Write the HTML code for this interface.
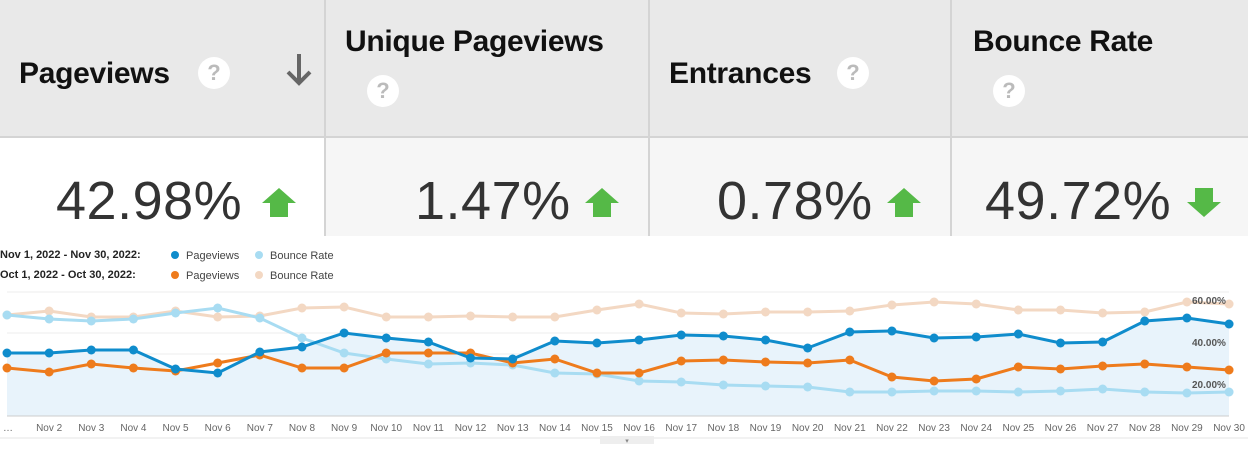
<!DOCTYPE html>
<html><head><meta charset="utf-8"><style>
body{margin:0;width:1248px;height:449px;overflow:hidden;background:#fff;font-family:"Liberation Sans",sans-serif;position:relative}
.a{position:absolute}
.h{font-weight:bold;font-size:30px;color:#111;letter-spacing:-0.3px}
.q{position:absolute;width:32px;height:32px;border-radius:50%;background:#fff;color:#bbb;font-size:22px;text-align:center;line-height:32px;font-weight:bold}
.n{font-size:54px;color:#333;position:absolute;top:171px;line-height:60px;letter-spacing:0.5px}
.vl{position:absolute;width:2px;background:#d4d4d4;top:0;height:236px}
</style></head><body>
<div class="a" style="left:0;top:0;width:1248px;height:136px;background:#e9e9e9"></div>
<div class="a" style="left:0;top:136px;width:1248px;height:2px;background:#d4d4d4"></div>
<div class="a" style="left:326px;top:138px;width:922px;height:98px;background:#f6f6f6"></div>
<div class="vl" style="left:324px"></div><div class="vl" style="left:648px"></div><div class="vl" style="left:950px"></div>
<div class="a h" style="left:19px;top:57px">Pageviews</div>
<div class="q" style="left:198px;top:57px">?</div>
<svg class="a" style="left:284px;top:52px" width="32" height="36"><path d="M15,2 V31 M4,20 L15,31 L26,20" stroke="#666" stroke-width="4" fill="none"/></svg>
<div class="a h" style="left:345px;top:25px">Unique Pageviews</div>
<div class="q" style="left:367px;top:75px">?</div>
<div class="a h" style="left:669px;top:57px">Entrances</div>
<div class="q" style="left:837px;top:57px">?</div>
<div class="a h" style="left:973px;top:25px">Bounce Rate</div>
<div class="q" style="left:993px;top:75px">?</div>
<div class="n" style="left:56px">42.98%</div>
<div class="n" style="left:415px">1.47%</div>
<div class="n" style="left:717px">0.78%</div>
<div class="n" style="left:985px">49.72%</div>
<svg class="a" style="left:0;top:0" width="1248" height="240">
<g fill="#55b947">
<polygon points="279,188 262,203 270,203 270,217 288,217 288,203 296,203"/>
<polygon points="602,188 585,203 593,203 593,217 611,217 611,203 619,203"/>
<polygon points="904,188 887,203 895,203 895,217 913,217 913,203 921,203"/>
<polygon points="1204,217 1187,202 1195,202 1195,188 1213,188 1213,202 1221,202"/>
</g></svg>
<div class="a" style="left:0;top:249px;font-size:11px;font-weight:bold;color:#222">Nov 1, 2022 - Nov 30, 2022:</div>
<div class="a" style="left:0;top:269px;font-size:11px;font-weight:bold;color:#222">Oct 1, 2022 - Oct 30, 2022:</div>
<svg class="a" style="left:0;top:240px" width="1248" height="209" id="s"></svg>
<script>
var s=document.getElementById('s'),h='';
function X(i){return 7+i*42.14}
var B=[353,353,350,350,369,373,352,347,333,338,342,358,359,341,343,340,335,336,340,348,332,331,338,337,334,343,342,321,318,324];
var O=[368,372,364,368,371,363,355,368,368,353,353,353,363,359,373,373,361,360,362,363,360,377,381,379,367,369,366,364,367,370];
var L=[315,319,321,319,313,308,318,338,353,359,364,363,365,373,374,381,382,385,386,387,392,392,391,391,392,391,389,392,393,392];
var P=[315,311,317,317,311,317,316,308,307,317,317,316,317,317,310,304,313,314,312,312,311,305,302,304,310,310,313,312,302,304];
var o=-240;
[292,333,354,375,396].forEach(function(y){h+='<line x1="7" x2="1229" y1="'+(y+o)+'" y2="'+(y+o)+'" stroke="#eee"/>'});
var pa='M7,'+(416+o);B.forEach(function(v,i){pa+=' L'+X(i)+','+(v+o)});pa+=' L1229,'+(416+o)+'Z';
h+='<path d="'+pa+'" fill="#e8f3fb"/>';
h+='<line x1="7" x2="1229" y1="'+(416+o)+'" y2="'+(416+o)+'" stroke="#ccc"/>';
function ser(a,c){var p='';a.forEach(function(v,i){p+=X(i)+','+(v+o)+' '});h+='<polyline points="'+p+'" fill="none" stroke="'+c+'" stroke-width="3"/>';a.forEach(function(v,i){h+='<circle cx="'+X(i)+'" cy="'+(v+o)+'" r="4.5" fill="'+c+'"/>'})}
ser(P,'#f3d8c3');ser(L,'#a8dcf2');ser(O,'#ee7b1c');ser(B,'#0f8ccc');
[['60.00%',300],['40.00%',342],['20.00%',384]].forEach(function(t){h+='<text x="1192" y="'+(t[1]+4+o)+'" font-size="10" font-weight="bold" fill="#555">'+t[0]+'</text>'});
h+='<text x="3" y="'+(431+o)+'" font-size="10" fill="#666">…</text>';
for(var i=1;i<30;i++){h+='<text x="'+X(i)+'" y="'+(431+o)+'" font-size="10" fill="#666" text-anchor="middle">Nov '+(i+1)+'</text>'}
h+='<line x1="0" x2="1248" y1="'+(438+o)+'" y2="'+(438+o)+'" stroke="#e4e4e4"/>';
h+='<rect x="600" y="'+(436+o)+'" width="54" height="8" fill="#eee"/><text x="627" y="'+(443+o)+'" font-size="7" fill="#888" text-anchor="middle">▾</text>';
[[175,15,'#0f8ccc','Pageviews'],[259,15,'#a8dcf2','Bounce Rate'],[175,35,'#ee7b1c','Pageviews'],[259,35,'#f3d8c3','Bounce Rate']].forEach(function(l){h+='<circle cx="'+l[0]+'" cy="'+l[1]+'" r="4" fill="'+l[2]+'"/><text x="'+(l[0]+11)+'" y="'+(l[1]+4)+'" font-size="11" fill="#444">'+l[3]+'</text>'});
s.innerHTML=h;
</script>
</body></html>
